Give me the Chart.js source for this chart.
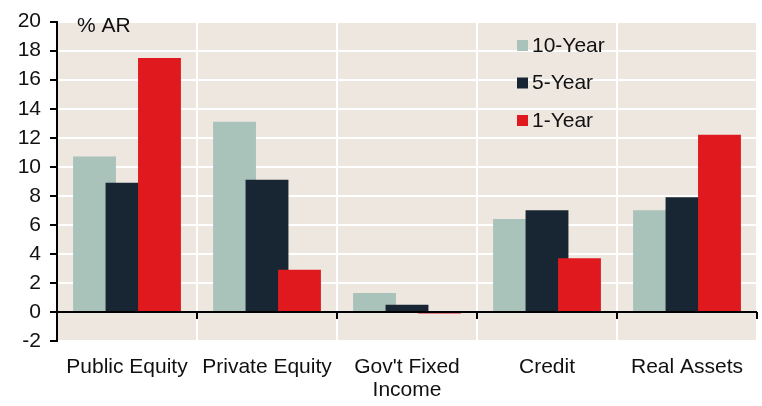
<!DOCTYPE html>
<html>
<head>
<meta charset="utf-8">
<script src="https://cdn.jsdelivr.net/npm/chart.js@4"></script>
<style>
    html, body { margin: 0; padding: 0; background: #ffffff; }
    #wrap { width: 762px; height: 406px; }
</style>
</head>
<body>
<div id="wrap"><canvas id="chart" width="762" height="406"></canvas></div>
<script>
var categories = ['Public Equity', 'Private Equity', ["Gov't Fixed", 'Income'], 'Credit', 'Real Assets'];
var seriesNames = ['10-Year', '5-Year', '1-Year'];
var tenYear = [10.7, 13.1, 1.3, 6.4, 7.0];
var fiveYear = [8.9, 9.1, 0.5, 7.0, 7.9];
var oneYear = [17.5, 2.9, -0.1, 3.7, 12.2];
var yTicks = [-2, 0, 2, 4, 6, 8, 10, 12, 14, 16, 18, 20];

var colors = ['#a9c2ba', '#182633', '#e0191f'];
var font = 'Liberation Sans, Arial, sans-serif';
var fontSize = 21;

// beige plot background
var plotBg = {
    id: 'plotBg',
    beforeDraw(chart) {
        var a = chart.chartArea, ctx = chart.ctx;
        ctx.save();
        ctx.fillStyle = '#eee7e0';
        ctx.fillRect(a.left, a.top, a.right - a.left, a.bottom - a.top);
        ctx.restore();
    }
};

// draw series left to right so each bar sits on top of the previous one
var barOrder = {
    id: 'barOrder',
    beforeDatasetsDraw(chart) {
        for (var i = 0; i < chart.data.datasets.length; i++) {
            chart.getDatasetMeta(i).controller.draw();
        }
        return false;
    }
};

// zero line, category ticks, unit label and legend
var extras = {
    id: 'extras',
    afterDraw(chart) {
        var a = chart.chartArea, ctx = chart.ctx;
        var y0 = chart.scales.y.getPixelForValue(0);
        var step = (a.right - a.left) / categories.length;
        ctx.save();
        ctx.strokeStyle = '#000';
        ctx.lineWidth = 2;
        ctx.beginPath();
        ctx.moveTo(a.left, y0);
        ctx.lineTo(a.right, y0);
        for (var i = 0; i <= categories.length; i++) {
            var x = Math.round(a.left + i * step);
            ctx.moveTo(x, y0);
            ctx.lineTo(x, y0 + 7);
        }
        ctx.stroke();

        ctx.fillStyle = '#111';
        ctx.font = fontSize + 'px ' + font;
        ctx.textBaseline = 'middle';
        ctx.fillText('% AR', 77, 26);

        for (var j = 0; j < seriesNames.length; j++) {
            var ly = 45 + j * 37.5;
            ctx.fillStyle = colors[j];
            ctx.fillRect(517, ly - 5, 11, 11);
            ctx.fillStyle = '#111';
            ctx.fillText(seriesNames[j], 532, ly + 1);
        }
        ctx.restore();
    }
};

var datasets = [tenYear, fiveYear, oneYear].map(function (vals, i) {
    return {
        label: seriesNames[i],
        data: vals,
        backgroundColor: colors[i],
        borderWidth: 0,
        categoryPercentage: 0.696,
        barPercentage: 1.32
    };
});

new Chart(document.getElementById('chart'), {
    type: 'bar',
    data: { labels: categories, datasets: datasets },
    options: {
        responsive: false,
        animation: false,
        layout: { padding: { top: 15, right: 5, left: 0, bottom: 0 } },
        plugins: {
            legend: { display: false },
            tooltip: { enabled: false }
        },
        scales: {
            x: {
                grid: {
                    offset: true,
                    color: '#ffffff',
                    lineWidth: 2,
                    drawTicks: false
                },
                border: { display: false },
                ticks: {
                    color: '#111',
                    font: { family: font, size: fontSize, lineHeight: 1.1 },
                    padding: 15,
                    maxRotation: 0,
                    autoSkip: false
                },
                afterFit(scale) { scale.height = 65; }
            },
            y: {
                min: -2,
                max: 20,
                afterBuildTicks(scale) {
                    scale.ticks = yTicks.map(function (v) { return { value: v }; });
                },
                grid: {
                    color: '#ffffff',
                    lineWidth: 2,
                    tickColor: '#000',
                    tickLength: 7
                },
                border: { display: true, color: '#000', width: 2 },
                ticks: {
                    color: '#111',
                    font: { family: font, size: fontSize },
                    padding: 9
                },
                afterFit(scale) { scale.width = 57; }
            }
        }
    },
    plugins: [plotBg, barOrder, extras]
});
</script>
</body>
</html>
